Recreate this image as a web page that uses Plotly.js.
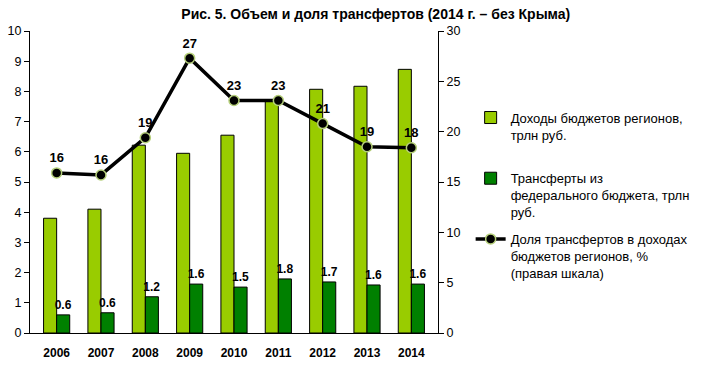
<!DOCTYPE html>
<html><head><meta charset="utf-8">
<script src="https://cdn.plot.ly/plotly-3.0.1.min.js"></script>
<style>body{margin:0;background:#fff}#c{width:709px;height:366px}</style>
</head><body><div id="c"></div>
<script>
const years = ['2006','2007','2008','2009','2010','2011','2012','2013','2014'];
const revenue = [3.8, 4.1, 6.22, 5.95, 6.55, 7.72, 8.07, 8.17, 8.73];
const transfers = [0.6, 0.67, 1.2, 1.62, 1.52, 1.79, 1.69, 1.59, 1.62];
const transferLabels = ['0.6','0.6','1.2','1.6','1.5','1.8','1.7','1.6','1.6'];
const share = [15.9, 15.7, 19.4, 27.3, 23.1, 23.1, 20.8, 18.5, 18.4];
const shareLabels = ['16','16','19','27','23','23','21','19','18'];

const F = '"Liberation Sans", Arial, sans-serif';
const traces = [
  {type:'bar', x:years, y:revenue, name:'Доходы бюджетов регионов,<br>трлн руб.<br> ',
   marker:{color:'#99cc00', line:{color:'#000', width:1}}, legendgroup:'a', hoverinfo:'skip'},
  {type:'bar', x:years, y:transfers, name:'Трансферты из<br>федерального бюджета, трлн<br>руб.',
   marker:{color:'#008000', line:{color:'#000', width:1}}, legendgroup:'b',
   text:transferLabels, textposition:'outside', cliponaxis:false, constraintext:'none',
   textfont:{family:F, size:12, color:'#000', weight:'bold'}},
  {type:'scatter', mode:'lines+markers+text', x:years, y:share, yaxis:'y2',
   name:'Доля трансфертов в доходах<br>бюджетов регионов, %<br>(правая шкала)',
   line:{color:'#000', width:3.5}, marker:{color:'#000', size:10, line:{color:'#b5cf7a', width:1.5}},
   text:shareLabels, textposition:'top center', cliponaxis:false,
   textfont:{family:F, size:13, color:'#000', weight:'bold'}, legendgroup:'c'}
];
const layout = {
  width:709, height:366, paper_bgcolor:'#fff', plot_bgcolor:'#fff',
  margin:{l:30, r:271, t:31, b:33},
  font:{family:F, size:12, color:'#000'},
  title:{text:'<b>Рис. 5. Объем и доля трансфертов (2014 г. – без Крыма)</b>', x:0.53, xref:'container', xanchor:'center', y:0.975, yanchor:'top', font:{size:14, family:F}},
  barmode:'group', bargap:0.41, bargroupgap:0,
  xaxis:{type:'category', showline:true, linecolor:'#000', linewidth:1, ticks:'', showgrid:false,
    tickfont:{family:F, size:12, weight:'bold'}, ticklabelstandoff:9},
  yaxis:{range:[0,10], dtick:1, showline:true, linecolor:'#000', ticks:'outside', ticklen:5, tickcolor:'#000',
    showgrid:false, zeroline:false, tickfont:{size:12.5}},
  yaxis2:{range:[0,30], dtick:5, overlaying:'y', side:'right', showline:true, linecolor:'#000', ticks:'outside',
    ticklen:5, tickcolor:'#000', showgrid:false, zeroline:false, tickfont:{size:12.5}},
  legend:{x:1.08, xanchor:'left', y:0.763, yanchor:'top', tracegroupgap:7, font:{size:13, family:F},
    traceorder:'grouped', itemwidth:30, valign:'top'},
  showlegend:true
};
Plotly.newPlot('c', traces, layout, {displayModeBar:false, staticPlot:true});
</script></body></html>
